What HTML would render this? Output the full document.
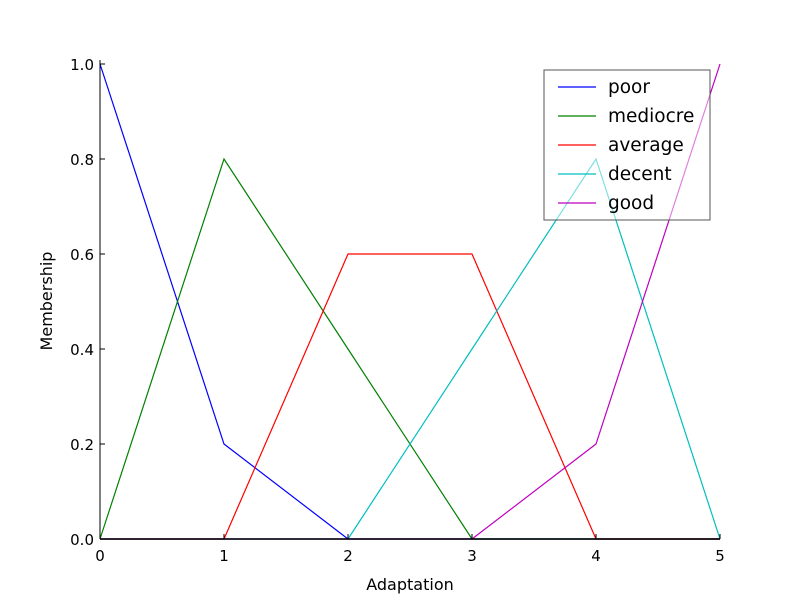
<!DOCTYPE html>
<html><head><meta charset="utf-8"><style>body{margin:0;background:#fff}svg{display:block;font-family:"DejaVu Sans","Liberation Sans",sans-serif}</style></head>
<body>
<svg id="chart" width="800" height="600"></svg>
<script>
const xTicks=[0,1,2,3,4,5];
const yTicks=[0,0.2,0.4,0.6,0.8,1.0];
const yTickLabels=["0.0","0.2","0.4","0.6","0.8","1.0"];
const seriesNames=["poor","mediocre","average","decent","good"];
const seriesColors=["#0000ff","#008000","#ff0000","#00bfbf","#bf00bf"];
const xVals=[0,1,2,3,4,5];
const poor=[1,0.2,0,0,0,0];
const mediocre=[0,0.8,0.4,0,0,0];
const average=[0,0,0.6,0.6,0,0];
const decent=[0,0,0,0.4,0.8,0];
const good=[0,0,0,0,0.2,1];
const seriesData=[poor,mediocre,average,decent,good];
const svg=document.getElementById('chart');
const NS='http://www.w3.org/2000/svg';
const L=100,R=720,T=64,B=539;
const xs=v=>L+(v-0)/5*(R-L);
const ys=v=>B-v*(B-T);
function mk(t,a,p){const e=document.createElementNS(NS,t);for(const k in a)e.setAttribute(k,a[k]);(p||svg).appendChild(e);return e;}
seriesData.forEach((d,i)=>{
  const pl=mk('polyline',{points:d.map((v,j)=>xs(xVals[j])+','+ys(v)).join(' '),fill:'none',stroke:seriesColors[i],'stroke-width':1.2});
  
  
});
const ax=mk('g',{});


mk('line',{x1:L,y1:B,x2:R,y2:B,stroke:'#000','stroke-width':1.5},ax);
mk('line',{x1:L,y1:T-4,x2:L,y2:B,stroke:'#000','stroke-width':1},ax);
xTicks.forEach(v=>{
  mk('line',{x1:xs(v),y1:B,x2:xs(v),y2:B-5,stroke:'#000'},ax);
  const t=mk('text',{x:xs(v),y:B+22,'text-anchor':'middle','font-size':15},ax);t.textContent=v;
  
  
});
yTicks.forEach((v,i)=>{
  mk('line',{x1:L,y1:ys(v),x2:L+5,y2:ys(v),stroke:'#000'},ax);
  const t=mk('text',{x:L-6,y:ys(v)+6,'text-anchor':'end','font-size':15},ax);t.textContent=yTickLabels[i];
  
  
});
const xt=mk('text',{x:410,y:590,'text-anchor':'middle','font-size':16});xt.textContent='Adaptation';


const yt=mk('text',{x:52,y:301,'text-anchor':'middle','font-size':16,transform:'rotate(-90 52 301)'});yt.textContent='Membership';


const lg=mk('g',{});


mk('rect',{x:544,y:70,width:166,height:150,fill:'rgba(255,255,255,0.5)',stroke:'#555'},lg);
seriesNames.forEach((n,i)=>{
  const y=87+i*29;
  mk('line',{x1:558,y1:y,x2:596,y2:y,stroke:seriesColors[i],'stroke-width':1.2},lg);
  const t=mk('text',{x:608,y:y+6,'font-size':18.5},lg);t.textContent=n;
  
  
});
</script>
</body></html>
